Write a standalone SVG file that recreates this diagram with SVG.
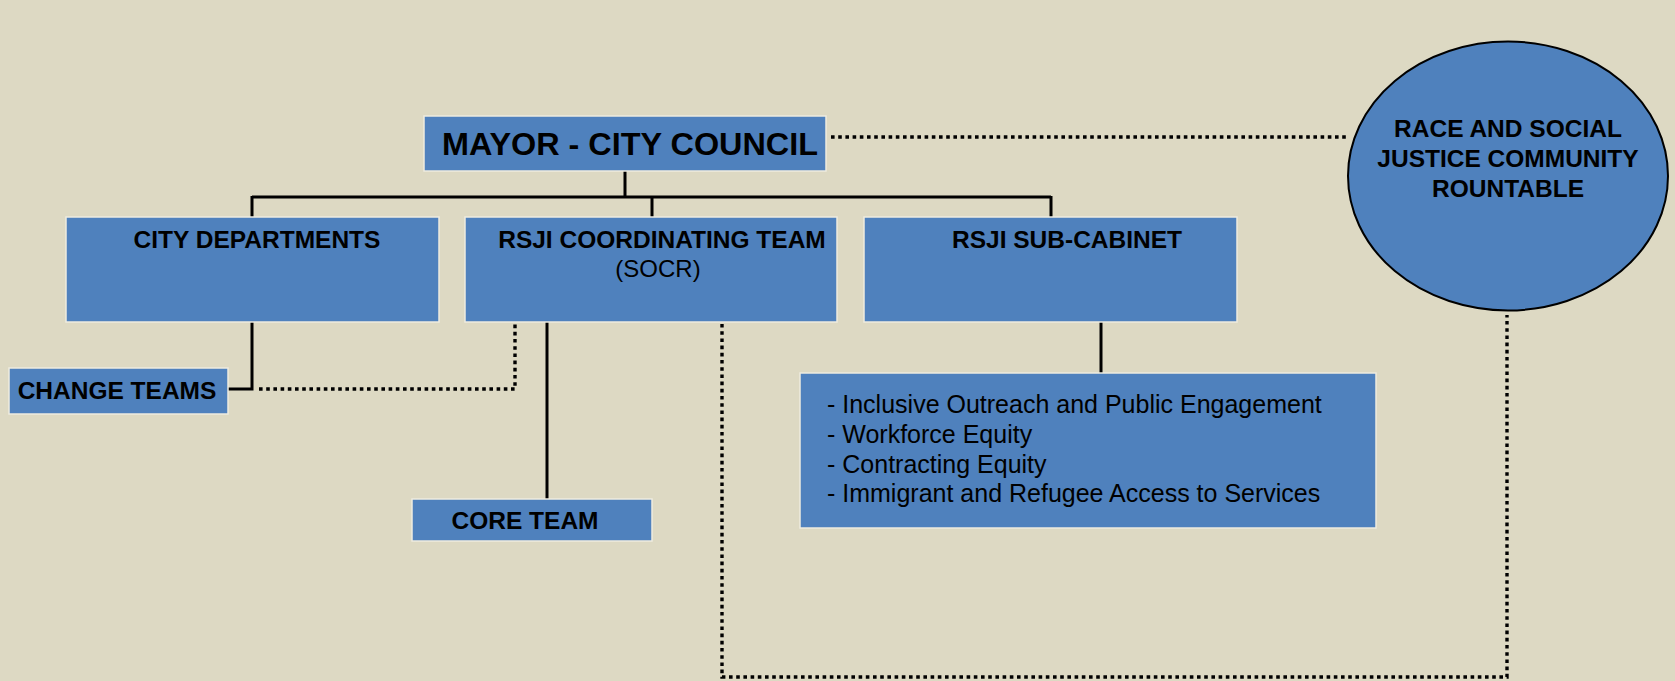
<svg xmlns="http://www.w3.org/2000/svg" width="1675" height="681" viewBox="0 0 1675 681">
<style>
.box{fill:#4f81bd;stroke:#eeebdf;stroke-width:1.5}
.b{font-family:"Liberation Sans",Arial,sans-serif;font-weight:bold;fill:#000}
.r{font-family:"Liberation Sans",Arial,sans-serif;fill:#000}
.solid{fill:none;stroke:#000;stroke-width:3}
.dot{fill:none;stroke:#000;stroke-width:3.4;stroke-dasharray:3.6 3.6}
</style>
<rect width="1675" height="681" fill="#ddd9c3"/>
<g id="connectors">
<path class="dot" d="M831 137 H1348"/>
<path class="solid" d="M625 171 V197 M252 197 H1051 M252 196 V217 M652 197 V217 M1051 196 V217"/>
<path class="solid" d="M252 322 V389 H228"/>
<path class="dot" d="M259 389 H515 V322"/>
<path class="solid" d="M547 322 V499"/>
<path class="dot" d="M722 324 V677 H1507 V315"/>
<path class="solid" d="M1101 322 V373"/>
</g>
<g id="mayor">
<rect class="box" x="424" y="116" width="402" height="55"/>
<text class="b" x="442" y="155" font-size="32" textLength="376" lengthAdjust="spacingAndGlyphs">MAYOR - CITY COUNCIL</text>
</g>
<g id="roundtable">
<ellipse cx="1508" cy="176" rx="160" ry="134.5" fill="#4f81bd" stroke="#000" stroke-width="2"/>
<text class="b" font-size="24.5" text-anchor="middle"><tspan x="1508" y="137">RACE AND SOCIAL</tspan><tspan x="1508" y="167">JUSTICE COMMUNITY</tspan><tspan x="1508" y="197">ROUNTABLE</tspan></text>
</g>
<g id="city-departments">
<rect class="box" x="66" y="217" width="373" height="105"/>
<text class="b" x="257" y="248" font-size="24.5" text-anchor="middle">CITY DEPARTMENTS</text>
</g>
<g id="rsji-coordinating">
<rect class="box" x="465" y="217" width="372" height="105"/>
<text class="b" x="662" y="248" font-size="24.5" text-anchor="middle">RSJI COORDINATING TEAM</text>
<text class="r" x="658" y="277" font-size="24" text-anchor="middle">(SOCR)</text>
</g>
<g id="rsji-subcabinet">
<rect class="box" x="864" y="217" width="373" height="105"/>
<text class="b" x="1067" y="248" font-size="24.5" text-anchor="middle">RSJI SUB-CABINET</text>
</g>
<g id="change-teams">
<rect class="box" x="9" y="368" width="219" height="46"/>
<text class="b" x="117" y="399" font-size="24.5" text-anchor="middle">CHANGE TEAMS</text>
</g>
<g id="core-team">
<rect class="box" x="412" y="499" width="240" height="42"/>
<text class="b" x="525" y="529" font-size="24.5" text-anchor="middle">CORE TEAM</text>
</g>
<g id="subcabinet-list">
<rect class="box" x="800" y="373" width="576" height="155"/>
<text class="r" font-size="25"><tspan x="827" y="413">- Inclusive Outreach and Public Engagement</tspan><tspan x="827" y="443">- Workforce Equity</tspan><tspan x="827" y="473">- Contracting Equity</tspan><tspan x="827" y="502">- Immigrant and Refugee Access to Services</tspan></text>
</g>
</svg>
